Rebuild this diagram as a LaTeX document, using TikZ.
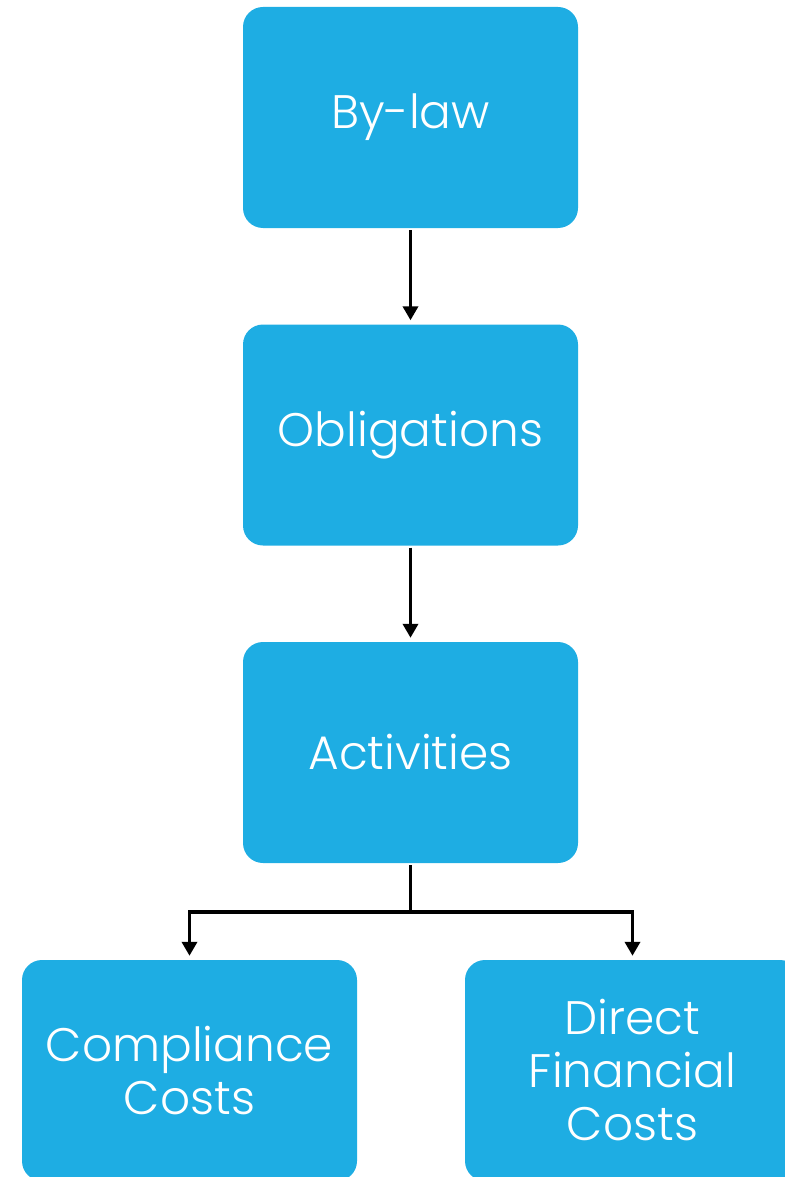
\documentclass[tikz,border=0pt]{standalone}
\usepackage{fontspec}
\setmainfont{Poppins Light}
\usetikzlibrary{arrows.meta}
\definecolor{mblue}{HTML}{1EADE3}
\tikzset{box/.style = {fill=mblue, rounded corners=20, minimum width=335, minimum height=221, inner sep=0, text=white, align=center, font=\fontsize{47}{53}\selectfont}}
\tikzset{conn/.style = {line width=3.5, -{Triangle[length=14, width=15]}, shorten >=4}}

\begin{document}
\begin{tikzpicture}[x=1pt, y=-1pt]
  \useasboundingbox (0, 0) rectangle (784, 1177);

  \node [box] (bylaw) at (410.5, 117.5) {By-law};
  \node [box] (oblig) at (410.5, 435) {Obligations};
  \node [box] (activ) at (410.5, 752.5) {Activities};
  \node [box] (compl) at (189.5, 1070.5) {Compliance\\Costs};
  \node [box] (direct) at (632.5, 1070.5) {Direct\\Financial\\Costs};

  \coordinate (split) at (410.5, 912);

  \draw [conn, shorten <=2] (bylaw) -- (oblig);
  \draw [conn, shorten <=2] (oblig) -- (activ);
  \draw [line width=3.5, shorten <=2] (activ) -- (split);
  \foreach \t in {compl, direct} {
    \draw [conn] (split) -| (\t);
  }
\end{tikzpicture}
\end{document}
